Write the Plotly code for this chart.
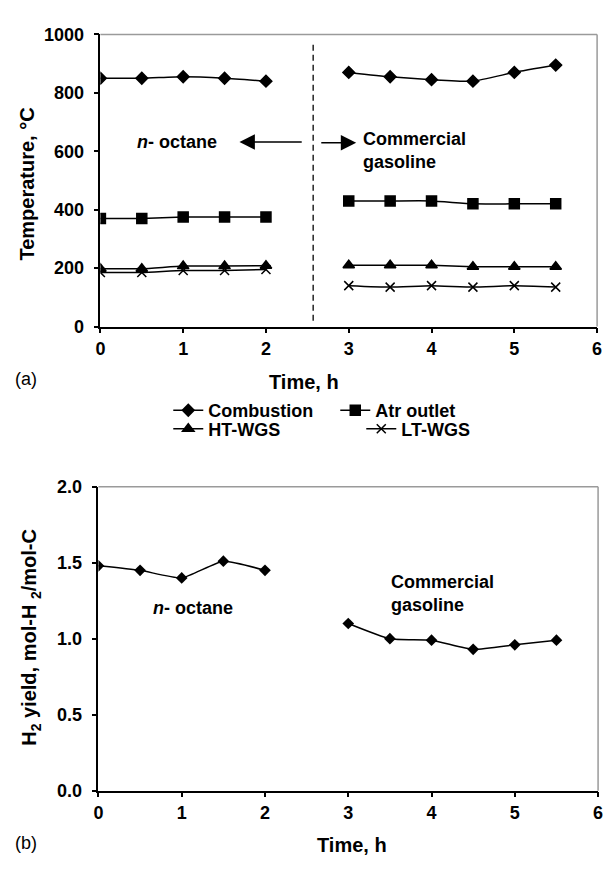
import plotly.graph_objects as go

# Time on stream, h
t_octane = [0, 0.5, 1, 1.5, 2]
t_gasoline = [3, 3.5, 4, 4.5, 5, 5.5]

# Reactor temperatures, °C
combustion_octane = [850, 850, 855, 850, 840]
combustion_gasoline = [870, 855, 845, 840, 870, 895]
atr_octane = [370, 370, 375, 375, 375]
atr_gasoline = [430, 430, 430, 420, 420, 420]
htwgs_octane = [198, 198, 207, 207, 208]
htwgs_gasoline = [210, 210, 210, 205, 205, 205]
ltwgs_octane = [185, 185, 192, 192, 195]
ltwgs_gasoline = [140, 135, 140, 135, 140, 135]

# Hydrogen yield, mol-H2/mol-C
h2_octane = [1.48, 1.45, 1.40, 1.51, 1.45]
h2_gasoline = [1.10, 1.00, 0.99, 0.93, 0.96, 0.99]

# Axis ticks
time_ticks = [0, 1, 2, 3, 4, 5, 6]
temp_ticks = [0, 200, 400, 600, 800, 1000]
yield_ticks = [0.0, 0.5, 1.0, 1.5, 2.0]

# Fuel switch marker and arrows (time, h / temperature, °C)
switch_time = 2.57
switch_span = [20, 975]
arrow_left = {"tail": 2.45, "head": 1.68, "level": 632}
arrow_right = {"tail": 2.65, "head": 3.09, "level": 629}

FONT = "Liberation Sans, Arial, sans-serif"
W, H = 608, 870


def px(x):
    return x / W


def py(y):
    return 1 - y / H


def joined(a, b):
    return list(a) + [None] + list(b)


t_all = joined(t_octane, t_gasoline)

fig = go.Figure()

series = [
    ("Combustion", combustion_octane, combustion_gasoline, "diamond", 9, "legend"),
    ("Atr outlet", atr_octane, atr_gasoline, "square", 10, "legend"),
    ("HT-WGS", htwgs_octane, htwgs_gasoline, "triangle-up", 10, "legend2"),
    ("LT-WGS", ltwgs_octane, ltwgs_gasoline, "x-thin", 9, "legend2"),
]
for name, a, b, sym, size, leg in series:
    fig.add_trace(go.Scatter(
        x=t_all, y=joined(a, b), name=name, mode="lines+markers",
        line=dict(color="black", width=1.5, shape="spline", smoothing=0.5),
        marker=dict(symbol=sym, size=size, color="black",
                    line=dict(color="black", width=1.5)),
        connectgaps=False, legend=leg, xaxis="x", yaxis="y",
    ))

# Fuel switch divider
fig.add_trace(go.Scatter(
    x=[switch_time, switch_time], y=switch_span, mode="lines",
    line=dict(color="black", width=1.3, dash="6px,4px"),
    showlegend=False, hoverinfo="skip", xaxis="x", yaxis="y",
))

# Hydrogen yield
fig.add_trace(go.Scatter(
    x=t_all, y=joined(h2_octane, h2_gasoline), mode="lines+markers",
    line=dict(color="black", width=1.5, shape="spline", smoothing=0.5),
    marker=dict(symbol="diamond", size=9, color="black"),
    connectgaps=False, showlegend=False, xaxis="x2", yaxis="y2",
))

axis_common = dict(
    showline=True, linecolor="black", linewidth=1.5,
    ticks="outside", ticklen=5, tickwidth=1.5, tickcolor="black",
    showgrid=False, zeroline=False,
    tickfont=dict(family=FONT, size=18, color="black", weight="bold"),
)

legend_font = dict(family=FONT, size=18, color="black", weight="bold")

fig.update_layout(
    width=W, height=H,
    margin=dict(l=0, r=0, t=0, b=0),
    paper_bgcolor="white", plot_bgcolor="white",
    font=dict(family=FONT, color="black"),
    xaxis=dict(domain=[px(97), px(602)], range=[0, 6], tickvals=time_ticks,
               anchor="y", **axis_common),
    yaxis=dict(domain=[py(324), py(25)], range=[0, 1000], tickvals=temp_ticks,
               anchor="x", ticklabelstandoff=6, **axis_common),
    xaxis2=dict(domain=[px(95), px(603)], range=[0, 6], tickvals=time_ticks,
                anchor="y2", **axis_common),
    yaxis2=dict(domain=[py(799), py(488)], range=[0, 2], tickvals=yield_ticks,
                tickformat=".1f", anchor="x2", ticklabelstandoff=6, **axis_common),
    legend=dict(orientation="h", x=px(166), xanchor="left", y=py(410),
                yanchor="middle", entrywidth=122, itemwidth=30,
                font=legend_font, bgcolor="rgba(0,0,0,0)", tracegroupgap=0),
    legend2=dict(orientation="h", x=px(166), xanchor="left", y=py(429),
                 yanchor="middle", entrywidth=148, itemwidth=30,
                 font=legend_font, bgcolor="rgba(0,0,0,0)", tracegroupgap=0),
)

# Light frame on top and right of each panel
for xr, yr in (("x", "y"), ("x2", "y2")):
    fig.add_shape(type="line", xref=f"{xr} domain", yref=f"{yr} domain",
                  x0=0, x1=1, y0=1, y1=1, line=dict(color="#9a9a9a", width=1.5))
    fig.add_shape(type="line", xref=f"{xr} domain", yref=f"{yr} domain",
                  x0=1, x1=1, y0=0, y1=1, line=dict(color="#9a9a9a", width=1.5))

bold_text = dict(family=FONT, size=18, color="black", weight="bold")
title_font = dict(family=FONT, size=20, color="black", weight="bold")

annotations = [
    # axis titles
    dict(text="Temperature, °C", x=px(22), y=py(178), textangle=-90, font=title_font),
    dict(text="Time, h", x=px(304), y=py(381), font=title_font),
    dict(text="H<sub>2</sub> yield, mol-H <sub>2</sub>/mol-C", x=px(26), y=py(642),
         textangle=-90, font=title_font),
    dict(text="Time, h", x=px(353), y=py(855), font=title_font),
    # panel labels
    dict(text="(a)", x=px(21), y=py(378), font=dict(family=FONT, size=18, color="black")),
    dict(text="(b)", x=px(21), y=py(853), font=dict(family=FONT, size=18, color="black")),
]
for a in annotations:
    fig.add_annotation(xref="paper", yref="paper", showarrow=False,
                       xanchor="center", yanchor="middle", **a)

# Fuel labels, panel (a)
fig.add_annotation(text="<i>n</i>- octane", x=0.92, y=632, xref="x", yref="y",
                   showarrow=False, font=bold_text)
fig.add_annotation(text="Commercial<br>gasoline", x=3.15, y=604, xref="x", yref="y",
                   xanchor="left", align="left", showarrow=False, font=bold_text)
# Fuel labels, panel (b)
fig.add_annotation(text="<i>n</i>- octane", x=1.13, y=1.20, xref="x2", yref="y2",
                   showarrow=False, font=bold_text)
fig.add_annotation(text="Commercial<br>gasoline", x=3.49, y=1.30, xref="x2", yref="y2",
                   xanchor="left", align="left", showarrow=False, font=bold_text)

# Arrows pointing to each fuel period
for arr in (arrow_left, arrow_right):
    fig.add_annotation(text="", x=arr["head"], y=arr["level"], ax=arr["tail"],
                       ay=arr["level"], xref="x", yref="y", axref="x", ayref="y",
                       showarrow=True, arrowhead=2, arrowsize=2.2, arrowwidth=1.4,
                       arrowcolor="black")

fig.write_html("out.html")
